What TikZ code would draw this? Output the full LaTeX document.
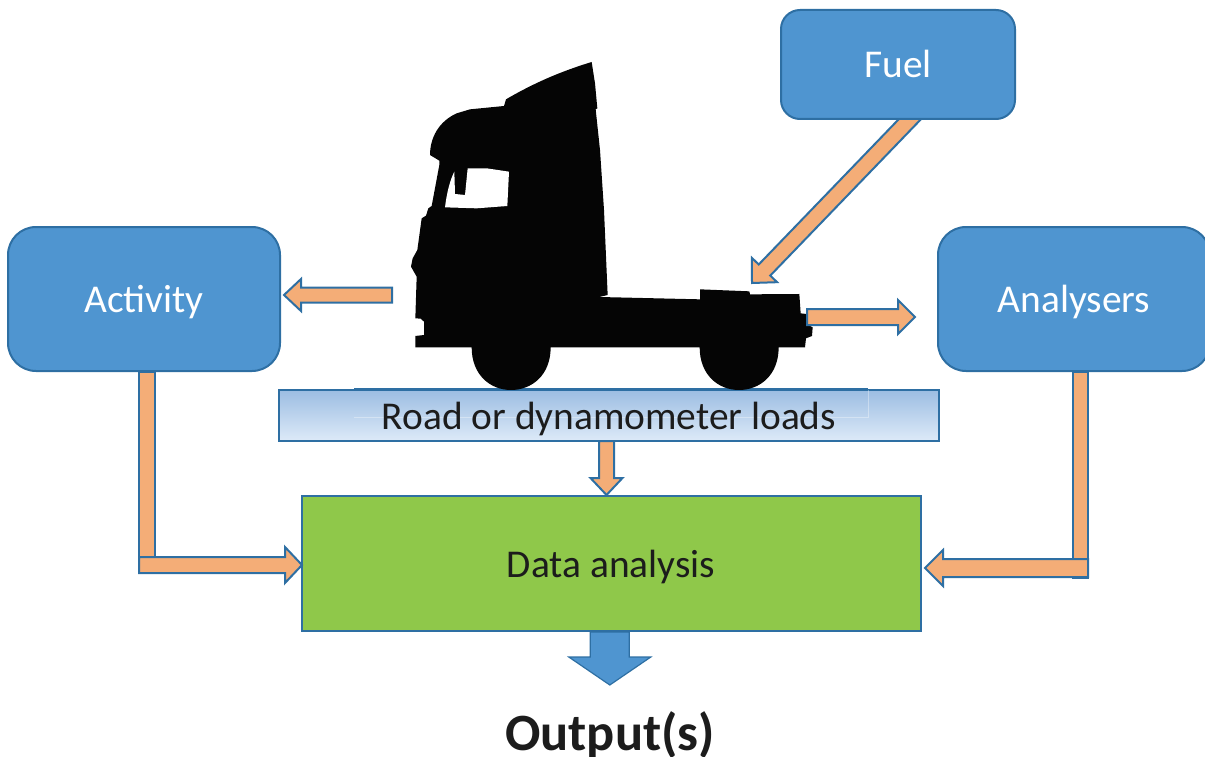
\documentclass[tikz,border=0pt]{standalone}
\usepackage{fontspec}
\setmainfont{Carlito}
\usetikzlibrary{calc}
\definecolor{boxblue}{HTML}{4F95D0}
\definecolor{edgeblue}{HTML}{2E6FA3}
\definecolor{arroworange}{HTML}{F4AD77}
\definecolor{datagreen}{HTML}{8FC84A}
\definecolor{roadtop}{HTML}{9CBDE2}
\definecolor{roadbot}{HTML}{DDEAF8}
\definecolor{inkdark}{HTML}{1C1C1C}
\tikzset{
  x=1pt,y=-1pt,
  roundbox/.style={draw=edgeblue,line width=2pt,fill=boxblue,rounded corners=28pt,inner sep=0pt,outer sep=0pt,anchor=north west},
  fuelbox/.style={roundbox,rounded corners=19pt},
  flatbox/.style={draw=edgeblue,line width=2pt,inner sep=0pt,outer sep=0pt,anchor=north west},
  whitelabel/.style={font=\fontsize{39.4}{42}\selectfont,text=white,inner sep=0pt,anchor=base},
  darklabel/.style={font=\fontsize{39.4}{42}\selectfont,text=inkdark,inner sep=0pt,anchor=base},
  orangearrow/.style={draw=edgeblue,line width=2pt,fill=arroworange,line join=miter},
  bluearrow/.style={draw=edgeblue,line width=1.2pt,fill=boxblue,line join=miter},
  silhouette/.style={fill=black!98,draw=none},
}
% style, tail, tip, half shaft, half head, head length
\newcommand{\blockarrow}[6]{%
  \coordinate (ba-n) at ($(#3)!#6pt!(#2)$);
  \draw[#1] ($(#2)!#4pt!90:(#3)$) -- ($(ba-n)!#4pt!90:(#3)$) -- ($(ba-n)!#5pt!90:(#3)$) -- (#3)
     -- ($(ba-n)!#5pt!-90:(#3)$) -- ($(ba-n)!#4pt!-90:(#3)$) -- ($(#2)!#4pt!-90:(#3)$) -- cycle;
}
\begin{document}
\begin{tikzpicture}
\useasboundingbox (0,0) rectangle (1205,757);
\begin{scope}
\clip (0,0) rectangle (1205,757);

% connector ends
\coordinate (fueltail) at (925,103.5);
\coordinate (fueltip) at (752,283);
\coordinate (truckleft) at (392,295);
\coordinate (acttip) at (284,295);
\coordinate (truckright) at (807,317);
\coordinate (anatip) at (915,317);
\coordinate (roadtail) at (606.5,441);
\coordinate (roadtip) at (606.5,495);
\coordinate (actcorner) at (139,565);
\coordinate (actdatatip) at (302,565);
\coordinate (anacorner) at (1088,568);
\coordinate (anadatatip) at (925,568);
\coordinate (outtail) at (609.8,632);
\coordinate (outtip) at (609.8,685);

\blockarrow{orangearrow}{fueltail}{fueltip}{8}{17.5}{18}

% boxes
\node[fuelbox,minimum width=234pt,minimum height=109pt] (fuel) at (781,10) {};
\node[whitelabel] (fueltext) at (898,78) {Fuel};
\node[roundbox,minimum width=272pt,minimum height=144pt] (activity) at (8,227) {};
\node[whitelabel] (activitytext) at (144,312) {Activity};
\node[roundbox,minimum width=272pt,minimum height=144pt] (analysers) at (938,227) {};
\node[whitelabel] (analyserstext) at (1074,312) {Analysers};
\node[flatbox,minimum width=660pt,minimum height=51pt,top color=roadtop,bottom color=roadbot] (road) at (279,390) {};
\draw[draw=white,opacity=.35,line width=.8pt] (354,417) -- (868,417) -- (868,390);
\draw[draw=edgeblue,line width=2.4pt] (354,389.5) -- (868,389.5);
\node[darklabel] (roadtext) at (609,429) {Road or dynamometer loads};
\node[flatbox,minimum width=619pt,minimum height=135pt,fill=datagreen] (data) at (302,496) {};
\node[darklabel] (datatext) at (611,577) {Data analysis};
\node[font=\bfseries\fontsize{52.4}{54}\selectfont,text=inkdark,inner sep=0pt,anchor=base] (output) at (610,750.5) {Output(s)};

% truck silhouette
\begin{scope}[shift={(400,50)},x=0.33333pt,y=-0.33333pt]
\fill[silhouette] (575,36) -- (585,100) -- (592,175) -- (587,178) -- (600,300) -- (612,480) -- (623,735)
 -- (598,741) -- (900,748) -- (900,718) -- (1048,724) -- (1050,733) -- (1198,732) -- (1202,790) -- (1220,792)
 -- (1225,825) -- (1238,832) -- (1236,858) -- (1218,865) -- (1215,892) -- (1136,892)
 .. controls (1136,975) and (1080,1020) .. (1017,1020) .. controls (955,1020) and (899,975) .. (899,892)
 -- (452,892)
 .. controls (452,975) and (396,1020) .. (333,1020) .. controls (271,1020) and (215,975) .. (215,892)
 -- (46,892) -- (46,858) -- (72,855) -- (72,815) -- (62,806) -- (46,805) -- (50,680) -- (33,650) -- (38,625)
 -- (52,600) -- (65,505) -- (78,497) -- (85,475) -- (95,468) -- (118,345) -- (118,332) -- (90,315)
 .. controls (90,265) and (115,215) .. (170,190) -- (210,178)
 -- (312,168) -- (318,148) .. controls (400,100) and (480,65) .. (575,36) -- cycle;
\fill[white] (203,355) -- (260,355) -- (327,365) -- (322,468) -- (230,475) -- (135,472)
 .. controls (140,430) and (150,390) .. (163,365) -- (165,432) -- (195,435) -- cycle;
\end{scope}

% block arrows
\blockarrow{orangearrow}{truckleft}{acttip}{7.5}{16}{17}
\blockarrow{orangearrow}{truckright}{anatip}{8}{17}{17}
\blockarrow{orangearrow}{roadtail}{roadtip}{7.5}{16}{17}
\draw[orangearrow] (139,372) rectangle (154.5,557);
\blockarrow{orangearrow}{actcorner}{actdatatip}{8}{18}{17}
\draw[orangearrow] (1073,372) rectangle (1088,578);
\blockarrow{orangearrow}{anacorner}{anadatatip}{9}{18}{18}
\blockarrow{bluearrow}{outtail}{outtip}{19.5}{41}{28}
\end{scope}
\end{tikzpicture}
\end{document}
